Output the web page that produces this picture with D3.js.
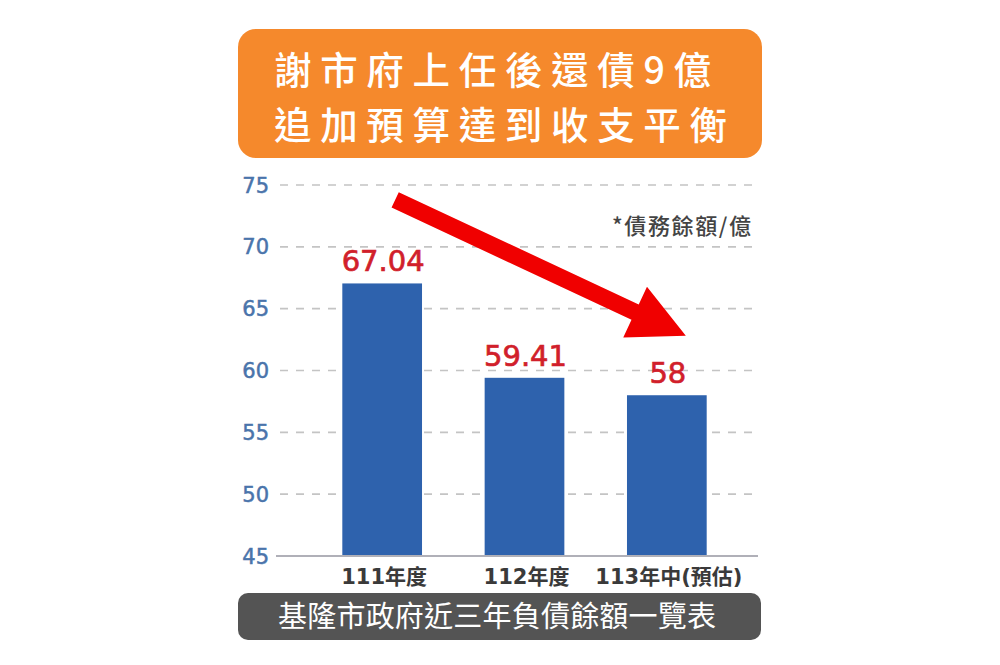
<!DOCTYPE html>
<html>
<head>
<meta charset="utf-8">
<script src="https://cdn.jsdelivr.net/npm/d3@7"></script>
<style>
html,body{margin:0;padding:0;background:#fff;}
svg{display:block;}
</style>
</head>
<body>
<svg id="chart" width="1000" height="665"></svg>
<script>
const categories = ["111年度", "112年度", "113年中(預估)"];
const values = [67.04, 59.41, 58];
const valueLabels = ["67.04", "59.41", "58"];
const yTicks = [45, 50, 55, 60, 65, 70, 75];
const titleLines = ["謝市府上任後還債9億", "追加預算達到收支平衡"];
const unitNote = "*債務餘額/億";
const footer = "基隆市政府近三年負債餘額一覽表";

const svg = d3.select("#chart");
const cjk = "'Noto Sans CJK TC','Noto Sans CJK SC','Noto Sans',sans-serif";
const num = "'DejaVu Sans','Noto Sans CJK TC',sans-serif";

const y = d3.scaleLinear().domain([45, 75]).range([556, 185]);
const x = d3.scaleBand().domain(categories).range([311, 738]).paddingInner(0.44).paddingOuter(0.22);

// title box
svg.append("rect").attr("x", 238).attr("y", 29).attr("width", 524).attr("height", 129)
  .attr("rx", 18).attr("fill", "#f5892c");
svg.selectAll("text.title").data(titleLines).join("text").attr("class", "title")
  .attr("x", 274).attr("y", (d, i) => 84 + i * 55)
  .attr("textLength", (d, i) => i === 0 ? 437 : 453).attr("lengthAdjust", "spacing")
  .attr("font-family", cjk).attr("font-size", 37.5).attr("font-weight", 500)
  .attr("fill", "#fff")
  .text(d => d);

// gridlines
svg.append("g").selectAll("line").data(yTicks.filter(t => t > 45)).join("line")
  .attr("x1", 280).attr("x2", 758).attr("y1", d => y(d)).attr("y2", d => y(d))
  .attr("stroke", "#c4c4c4").attr("stroke-width", 1.6).attr("stroke-dasharray", "8,8");

// y tick labels
svg.append("g").selectAll("text").data(yTicks).join("text")
  .attr("x", 269).attr("y", d => y(d)).attr("dy", "0.36em").attr("text-anchor", "end")
  .attr("font-family", num).attr("font-size", 21)
  .attr("fill", "#4a74ab").attr("stroke", "#4a74ab").attr("stroke-width", 0.5)
  .text(d => d);

// bars
svg.append("g").selectAll("rect").data(values).join("rect")
  .attr("x", (d, i) => x(categories[i])).attr("width", x.bandwidth())
  .attr("y", d => y(d)).attr("height", d => y(45) - y(d))
  .attr("fill", "#2e62ad");

// baseline
svg.append("line").attr("x1", 276).attr("x2", 758).attr("y1", y(45)).attr("y2", y(45))
  .attr("stroke", "#b0b0b8").attr("stroke-width", 2);

// value labels
svg.append("g").selectAll("text").data(values).join("text")
  .attr("x", (d, i) => x(categories[i]) + x.bandwidth() / 2 + 1)
  .attr("y", d => y(d) - 12).attr("text-anchor", "middle")
  .attr("font-family", num).attr("font-size", 29)
  .attr("fill", "#d11f2b").attr("stroke", "#d11f2b").attr("stroke-width", 0.7)
  .text((d, i) => valueLabels[i]);

// category labels
svg.append("g").selectAll("text").data(categories).join("text")
  .attr("x", d => x(d) + x.bandwidth() / 2 + 2).attr("y", 584).attr("text-anchor", "middle")
  .attr("font-family", num).attr("font-size", 21).attr("font-weight", 600)
  .attr("fill", "#3a3a3a").text(d => d);

// unit note
svg.append("text").attr("x", 612).attr("y", 234)
  .attr("textLength", 139).attr("lengthAdjust", "spacing")
  .attr("font-family", cjk).attr("font-size", 22).attr("font-weight", 500)
  .attr("fill", "#444").text(unitNote);

// red arrow (annotation from first bar toward last bar)
(function () {
  const tail = [x(categories[0]) + x.bandwidth() / 2 + 13, y(73.8)];
  const tip = [x(categories[2]) + x.bandwidth() / 2 + 19, y(62.8)];
  const dx = tip[0] - tail[0], dy = tip[1] - tail[1];
  const L = Math.hypot(dx, dy), ux = dx / L, uy = dy / L, px = -uy, py = ux;
  const headLen = 56, shaftW = 8.5, headW = 28;
  const bx = tip[0] - ux * headLen, by = tip[1] - uy * headLen;
  const pts = [
    [tail[0] - px * shaftW, tail[1] - py * shaftW],
    [bx - px * shaftW, by - py * shaftW],
    [bx - px * headW, by - py * headW],
    tip,
    [bx + px * headW, by + py * headW],
    [bx + px * shaftW, by + py * shaftW],
    [tail[0] + px * shaftW, tail[1] + py * shaftW]
  ];
  svg.append("path").attr("d", d3.line()(pts) + "Z").attr("fill", "#f00000");
})();

// footer box
svg.append("rect").attr("x", 238).attr("y", 593).attr("width", 523).attr("height", 47)
  .attr("rx", 10).attr("fill", "#545454");
svg.append("text").attr("x", 278).attr("y", 627)
  .attr("textLength", 438).attr("lengthAdjust", "spacing")
  .attr("font-family", cjk).attr("font-size", 29).attr("font-weight", 400)
  .attr("fill", "#fff").text(footer);
</script>
</body>
</html>
